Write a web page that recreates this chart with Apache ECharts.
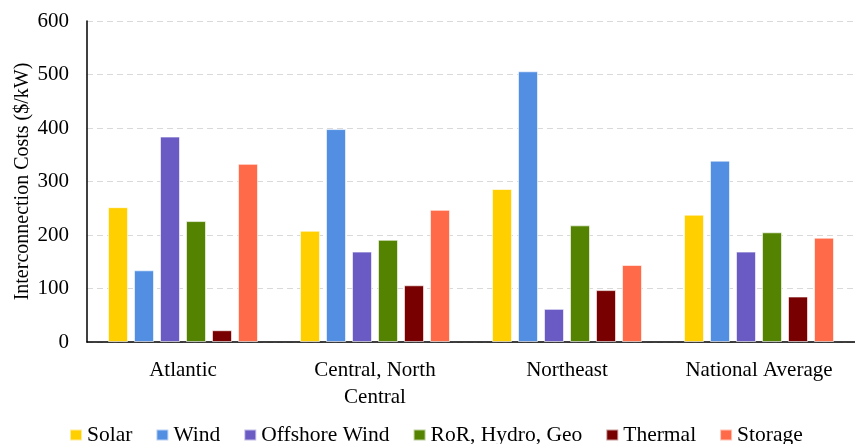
<!DOCTYPE html>
<html>
<head>
<meta charset="utf-8">
<script src="https://cdn.jsdelivr.net/npm/echarts@6/dist/echarts.min.js"></script>
<style>
  html, body { margin: 0; padding: 0; background: #fff; }
  #chart { width: 855px; height: 444px; }
</style>
</head>
<body>
<div id="chart"></div>
<script>
// Interconnection costs by region and technology ($/kW)
const regions = ['Atlantic', 'Central, North\nCentral', 'Northeast', 'National Average'];
const solar     = [252, 208, 286, 238];
const wind      = [134, 398, 506, 339];
const offshore  = [384, 169, 62, 169];
const rorHydro  = [226, 191, 218, 205];
const thermal   = [22, 106, 97, 85];
const storage   = [333, 247, 144, 195];
const yTicks    = [0, 100, 200, 300, 400, 500, 600];

const seriesDefs = [
  { name: 'Solar', data: solar, color: '#FFCF00' },
  { name: 'Wind', data: wind, color: '#528FE3' },
  { name: 'Offshore Wind', data: offshore, color: '#6A5BC4' },
  { name: 'RoR, Hydro, Geo', data: rorHydro, color: '#538300' },
  { name: 'Thermal', data: thermal, color: '#780000' },
  { name: 'Storage', data: storage, color: '#FF6A48' }
];

const font = 'Liberation Serif, Times New Roman, serif';
const chart = echarts.init(document.getElementById('chart'));
chart.setOption({
  animation: false,
  textStyle: { fontFamily: font },
  grid: { left: 87, right: 0, top: 21, bottom: 102, outerBoundsMode: 'none' },
  legend: {
    top: 424,
    left: 69,
    padding: 0,
    itemWidth: 12,
    itemHeight: 11,
    itemGap: 23,
    itemTextGap: 5,
    icon: 'rect',
    textStyle: { fontFamily: font, fontSize: 21.5, color: '#000' },
    data: seriesDefs.map(s => s.name)
  },
  xAxis: {
    type: 'category',
    data: regions,
    axisLine: { lineStyle: { color: '#000', width: 1.5 } },
    axisTick: { show: false },
    axisLabel: { fontFamily: font, fontSize: 21, color: '#000', margin: 15, lineHeight: 27 }
  },
  yAxis: {
    type: 'value',
    min: yTicks[0],
    max: yTicks[yTicks.length - 1],
    interval: 100,
    name: 'Interconnection Costs ($/kW)',
    nameLocation: 'middle',
    nameGap: 54,
    nameMoveOverlap: false,
    nameTextStyle: { fontFamily: font, fontSize: 20, color: '#000' },
    axisLine: { show: true, lineStyle: { color: '#000', width: 1.5 } },
    axisTick: { show: false },
    axisLabel: { fontFamily: font, fontSize: 21, color: '#000', margin: 18 },
    splitLine: { lineStyle: { color: '#d9d9d9', type: [6, 4], width: 1 } }
  },
  series: seriesDefs.map(s => ({
    name: s.name,
    type: 'bar',
    data: s.data,
    barWidth: 20,
    barGap: '30%',
    itemStyle: { color: s.color, borderColor: 'rgba(255,255,255,0.6)', borderWidth: 1 }
  }))
});
</script>
</body>
</html>
